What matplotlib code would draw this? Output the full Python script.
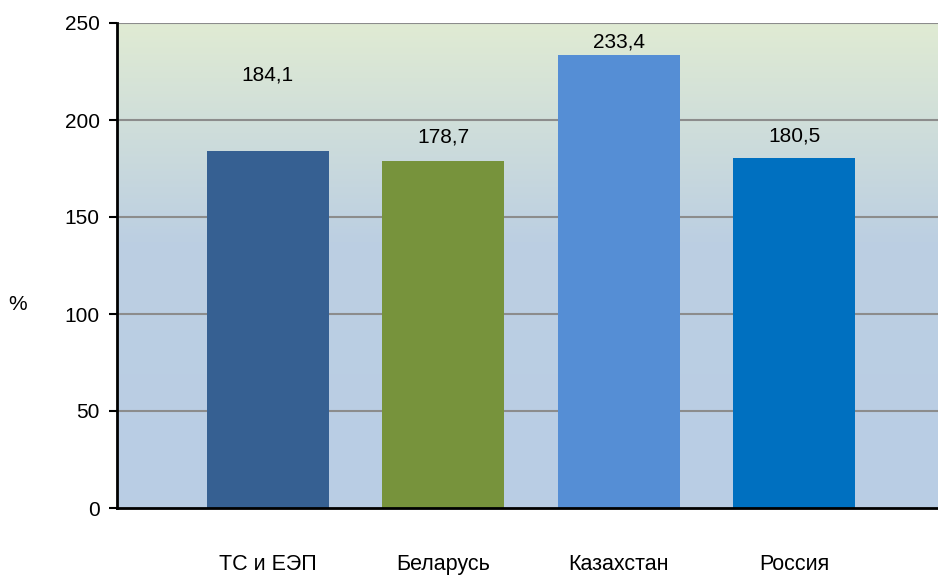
import matplotlib.pyplot as plt
import numpy as np
from matplotlib.colors import LinearSegmentedColormap

plt.rcParams['font.family'] = ['Liberation Sans', 'DejaVu Sans']

# данные
categories = ['ТС и ЕЭП', 'Беларусь', 'Казахстан', 'Россия']
values = [184.1, 178.7, 233.4, 180.5]
labels = ['184,1', '178,7', '233,4', '180,5']
colors = ['#366092', '#77933c', '#558ed5', '#0070c0']
# высота подписей (как в исходной диаграмме)
label_y = [223, 191, 240, 192]

fig = plt.figure(figsize=(9.38, 5.76), dpi=100)
ax = fig.add_axes([116.5 / 938, 1 - 508 / 576, (938 - 116.5) / 938, (508 - 23) / 576])

# градиентный фон: сверху светло-зелёный, снизу светло-голубой
cmap = LinearSegmentedColormap.from_list('bg', [(0, '#b9cde5'), (0.55, '#bccfe2'), (1, '#e0ebd3')])
grad = np.linspace(0, 1, 256).reshape(-1, 1)
x = np.arange(len(categories))
ax.set_xlim(-0.863, 3.82)
ax.set_ylim(0, 250)
ax.imshow(grad, aspect='auto', cmap=cmap, origin='lower',
          extent=[-0.863, 3.82, 0, 250], zorder=0)

for y in [50, 100, 150, 200, 250]:
    ax.axhline(y, color='#8c8c8c', lw=1.5, zorder=1)

ax.bar(x, values, width=0.695, color=colors, zorder=2)
for xi, ly, t in zip(x, label_y, labels):
    ax.text(xi, ly, t, ha='center', va='center', fontsize=15)

ax.set_yticks([0, 50, 100, 150, 200, 250])
ax.tick_params(axis='y', labelsize=15, length=6, width=1.5, direction='out', pad=6)
ax.set_xticks(x)
ax.set_xticklabels(categories, fontsize=15.5)
ax.tick_params(axis='x', length=0, pad=33)

for s in ['top', 'right']:
    ax.spines[s].set_visible(False)
ax.spines['left'].set_linewidth(2)
ax.spines['bottom'].set_linewidth(2)

fig.text(18 / 938, 1 - 305 / 576, '%', fontsize=15, ha='center', va='center')

fig.savefig('out.png', dpi=100)
